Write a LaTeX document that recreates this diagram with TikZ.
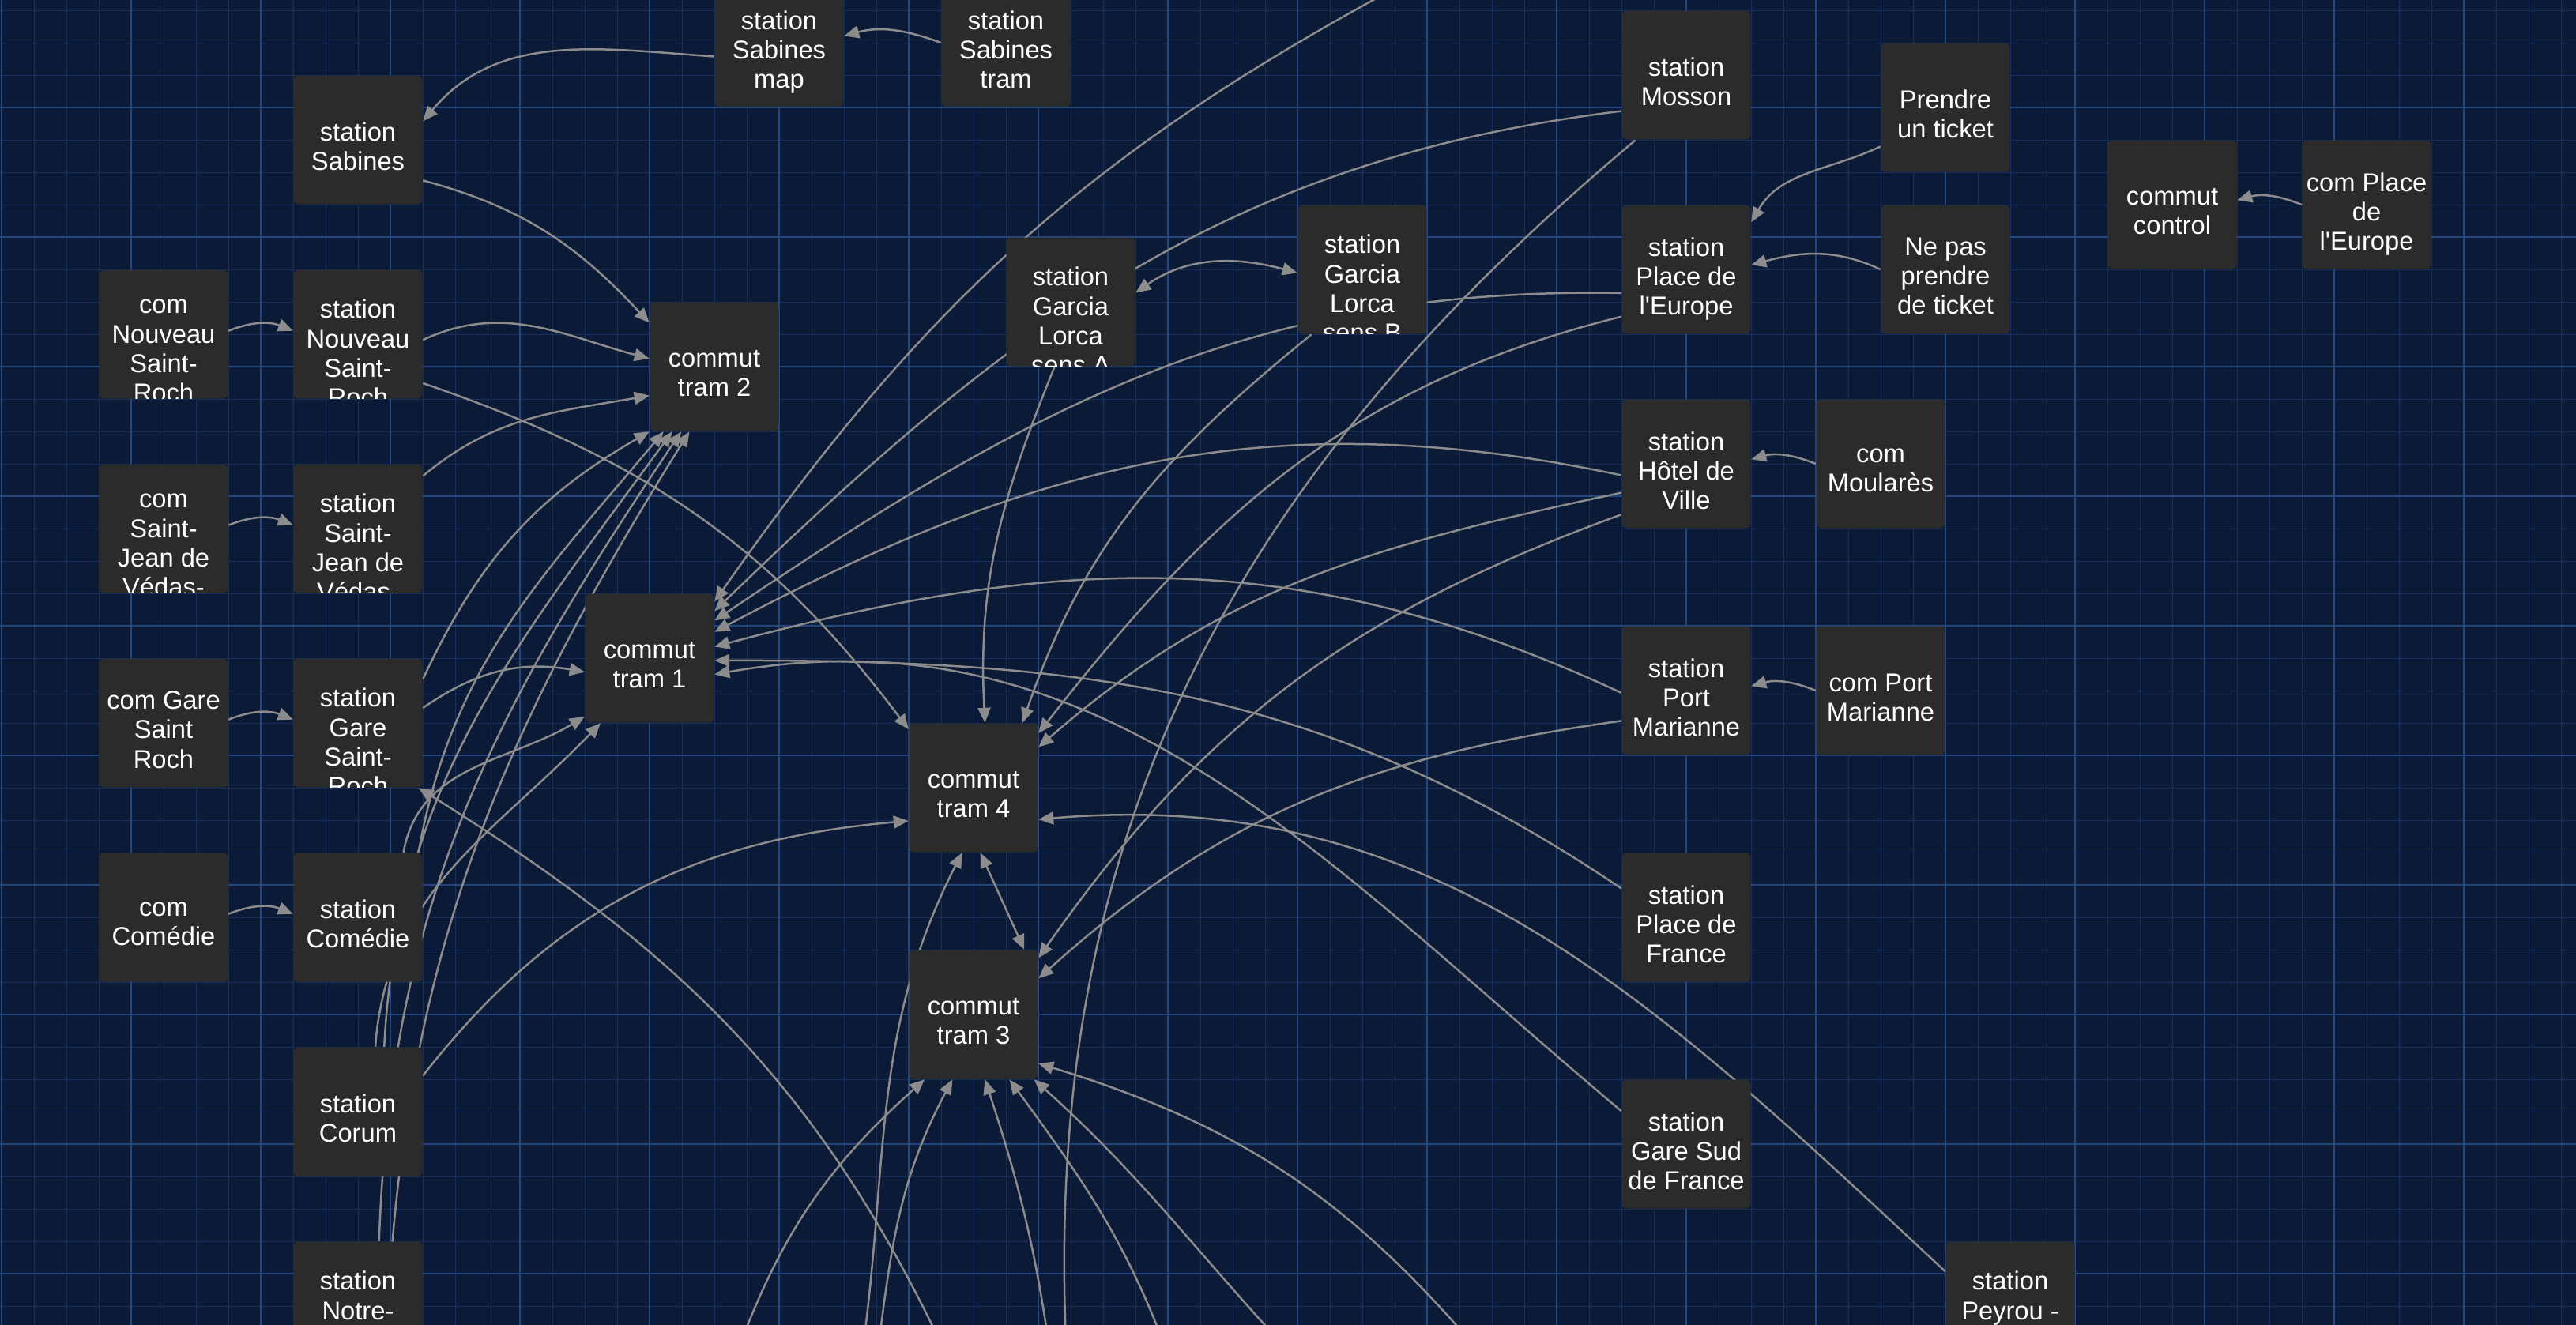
\documentclass[tikz,border=0pt]{standalone}
\usepackage{fontspec}
\setmainfont{Liberation Sans}
\usetikzlibrary{arrows.meta}
\pgfdeclarelayer{grille}
\pgfdeclarelayer{liens}
\pgfsetlayers{grille,liens,main}
\definecolor{fondbleu}{HTML}{0B1A36}
\definecolor{lignefine}{HTML}{182F5C}
\definecolor{lignemaj}{HTML}{25467F}
\definecolor{gris}{HTML}{2B2B2B}
\definecolor{fil}{HTML}{8C8C8C}
\begin{document}
\begin{tikzpicture}[x=4.1mm, y=4.1mm,
    boite/.style={fill=gris, rounded corners=0.6mm, minimum width=16.3mm, minimum height=16.3mm, inner sep=0pt},
    texte/.style={text=white, align=center, font=\fontsize{9.3}{10.6}\selectfont, inner sep=0pt, fill=none, draw=none,
      minimum width=0pt, minimum height=0pt, rounded corners=0pt, execute at begin node=\strut, execute at end node=\strut},
    bloc/.style={boite, path picture={\node[texte] at ([yshift=-1.4mm]path picture bounding box.center) {#1};}},
    blochaut/.style={boite, path picture={\node[texte, anchor=north] at ([yshift=-3.7mm]path picture bounding box.north) {#1};}},
    lien/.style={draw=fil, line width=0.25mm},
    fleche/.style={lien, -{Triangle[length=1.9mm,width=1.6mm]}},
    fleche2/.style={lien, {Triangle[length=1.9mm,width=1.6mm]}-{Triangle[length=1.9mm,width=1.6mm]}}]
    \useasboundingbox (-0.0488,-0.6829) rectangle (79.4634,-41.561);
    \begin{pgfonlayer}{grille}
        \fill[fondbleu] (-1,1) rectangle (81,-43);
        \draw[lignefine, line width=0.1mm, step=1] (-1,1) grid (81,-43);
        \draw[lignemaj, line width=0.2mm, step=4] (-4,4) grid (84,-44);
    \end{pgfonlayer}
    % les stations et les commutateurs
    \node[bloc={station\\Sabines\\map}] (smap) at (24,-2) {};
    \node[bloc={station\\Sabines\\tram}] (stram) at (31,-2) {};
    \node[bloc={station\\Sabines}] (sab) at (11,-5) {};
    \node[bloc={station\\Mosson}] (mosson) at (52,-3) {};
    \node[bloc={Prendre\\un ticket}] (prendre) at (60,-4) {};
    \node[bloc={commut\\control}] (control) at (67,-7) {};
    \node[bloc={com Place\\de\\l\textquotesingle Europe}] (comeurope) at (73,-7) {};
    \node[bloc={station\\Place de\\l\textquotesingle Europe}] (europe) at (52,-9) {};
    \node[bloc={Ne pas\\prendre\\de ticket}] (nepas) at (60,-9) {};
    \node[blochaut={station\\Garcia\\Lorca\\sens B}] (lorcaB) at (42,-9) {};
    \node[blochaut={station\\Garcia\\Lorca\\sens A}] (lorcaA) at (33,-10) {};
    \node[blochaut={com\\Nouveau\\Saint-\\Roch}] (comnsr) at (5,-11) {};
    \node[blochaut={station\\Nouveau\\Saint-\\Roch}] (nsr) at (11,-11) {};
    \node[bloc={commut\\tram 2}] (tram2) at (22,-12) {};
    \node[blochaut={com\\Saint-\\Jean de\\Védas-}] (comsjv) at (5,-17) {};
    \node[blochaut={station\\Saint-\\Jean de\\Védas-}] (sjv) at (11,-17) {};
    \node[bloc={commut\\tram 1}] (tram1) at (20,-21) {};
    \node[bloc={com Gare\\Saint\\Roch}] (comgsr) at (5,-23) {};
    \node[blochaut={station\\Gare\\Saint-\\Roch}] (gsr) at (11,-23) {};
    \node[bloc={com\\Comédie}] (comcom) at (5,-29) {};
    \node[bloc={station\\Comédie}] (comedie) at (11,-29) {};
    \node[bloc={station\\Corum}] (corum) at (11,-35) {};
    \node[blochaut={station\\Notre-}] (notre) at (11,-41) {};
    \node[bloc={commut\\tram 4}] (tram4) at (30,-25) {};
    \node[bloc={commut\\tram 3}] (tram3) at (30,-32) {};
    \node[bloc={station\\Hôtel de\\Ville}] (hotel) at (52,-15) {};
    \node[bloc={com\\Moularès}] (moulares) at (58,-15) {};
    \node[bloc={station\\Port\\Marianne}] (portm) at (52,-22) {};
    \node[bloc={com Port\\Marianne}] (comportm) at (58,-22) {};
    \node[bloc={station\\Place de\\France}] (placefr) at (52,-29) {};
    \node[bloc={station\\Gare Sud\\de France}] (garesud) at (52,-36) {};
    \node[blochaut={station\\Peyrou -}] (peyrou) at (62,-41) {};
    % bouts hors cadre
    \coordinate (haut) at (43.6,0);
    \coordinate (bas1) at (11.85,-42.63);
    \coordinate (bas2) at (22.63,-42.63);
    \coordinate (bas3) at (26.54,-42.63);
    \coordinate (bas4) at (27.02,-42.63);
    \coordinate (bas5) at (29.22,-42.63);
    \coordinate (bas6) at (32.39,-42.63);
    \coordinate (bas7) at (32.88,-42.63);
    \coordinate (bas8) at (36.05,-42.63);
    \coordinate (bas9) at (39.95,-42.63);
    \coordinate (bas10) at (45.8,-42.63);
    \begin{pgfonlayer}{liens}
        % liens courts
        \draw[fleche] (stram.180) to[out=160,in=15] (smap.6);
        \draw[fleche] (smap.192) to[out=176,in=50] (sab.16);
        \draw[fleche] (sab.-32) to[out=-15,in=133] (tram2.146);
        \draw[fleche] (comnsr.3) to[out=22,in=158] (nsr.177);
        \draw[fleche] (nsr.-5) to[out=25,in=165] (tram2.173);
        \draw[fleche] (nsr.-37) to[out=-19,in=127] (tram4.138);
        \draw[fleche] (comsjv.3) to[out=22,in=158] (sjv.177);
        \draw[fleche] (sjv.39) to[out=40,in=190] (tram2.204);
        \draw[fleche] (comgsr.3) to[out=22,in=158] (gsr.177);
        \draw[fleche] (gsr.13) to[out=35,in=170] (tram1.192);
        \draw[fleche] (comcom.3) to[out=22,in=158] (comedie.177);
        \draw[fleche] (corum.29) to[out=52,in=185] (tram4.207);
        \draw[fleche] (prendre.211) to[out=205,in=60] (europe.36);
        \draw[fleche] (nepas.180) to[out=155,in=15] (europe.4);
        \draw[fleche] (comeurope.180) to[out=158,in=15] (control.4);
        \draw[fleche] (moulares.180) to[out=158,in=15] (hotel.4);
        \draw[fleche] (comportm.180) to[out=158,in=15] (portm.4);
        \draw[fleche2] (lorcaA.8) to[out=35,in=165] (lorcaB.183);
        % vers tram 1
        \draw[fleche] (haut) to[out=208,in=55] (tram1.41);
        \draw[fleche] (mosson.209) to[out=187,in=44] (tram1.36);
        \draw[fleche] (europe.200) to[out=179,in=34] (tram1.30);
        \draw[fleche] (hotel.190) to[out=168,in=28] (tram1.22);
        \draw[fleche] (portm.182) to[out=155,in=15] (tram1.10);
        \draw[fleche] (placefr.156) to[out=146,in=0] (tram1.-2);
        \draw[fleche] (garesud.153) to[out=140,in=10] (tram1.-14);
        \draw[fleche] (comedie.55) to[out=80,in=211] (tram1.-138);
        \draw[fleche] (corum.75) to[out=86,in=226] (tram1.-127);
        % vers tram 2
        \draw[fleche] (comedie.47) to[out=80,in=230] (tram2.-128);
        \draw[fleche] (corum.68) to[out=87,in=234] (tram2.-123);
        \draw[fleche] (notre.72) to[out=88,in=236] (tram2.-117);
        \draw[fleche] (bas1) to[out=88,in=238] (tram2.-111);
        \draw[fleche] (gsr.34) to[out=65,in=210] (tram2.-135);
        % vers tram 4
        \draw[fleche] (lorcaA.-104) to[out=-112,in=93] (tram4.80);
        \draw[fleche] (lorcaB.-128) to[out=-141,in=71] (tram4.53);
        \draw[fleche] (europe.216) to[out=194,in=52] (tram4.40);
        \draw[fleche] (hotel.204) to[out=192,in=41] (tram4.32);
        \draw[fleche] (peyrou.152) to[out=137,in=5] (tram4.-26);
        \draw[fleche] (bas3) to[out=82,in=243] (tram4.-100);
        \draw[fleche2] (tram4.-84) -- (tram3.52);
        % vers tram 3
        \draw[fleche] (hotel.218) to[out=200,in=55] (tram3.41);
        \draw[fleche] (portm.205) to[out=188,in=42] (tram3.29);
        \draw[fleche] (bas10) to[out=130,in=-17] (tram3.-37);
        \draw[fleche] (bas2) to[out=70,in=222] (tram3.-127);
        \draw[fleche] (bas4) to[out=83,in=242] (tram3.-108);
        \draw[fleche] (bas6) to[out=98,in=-72] (tram3.-80);
        \draw[fleche] (bas8) to[out=110,in=-54] (tram3.-61);
        \draw[fleche] (bas9) to[out=133,in=-42] (tram3.-47);
        \draw[lien] (mosson.-128) to[out=220,in=93] (bas7);
        \draw[fleche] (bas5) to[out=115,in=-32] (gsr.-47);
    \end{pgfonlayer}
\end{tikzpicture}
\end{document}
